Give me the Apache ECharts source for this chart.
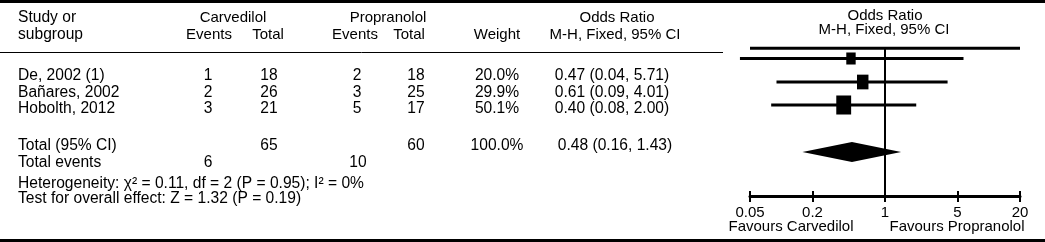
<!DOCTYPE html>
<html>
<head>
<meta charset="utf-8">
<script src="https://cdn.jsdelivr.net/npm/echarts@6/dist/echarts.min.js"></script>
<style>
html,body{margin:0;padding:0;background:#fff;}
#c{width:1045px;height:242px;}
</style>
</head>
<body>
<div id="c"></div>
<script>
// ---------------- DATA ----------------
const categories   = ['De, 2002 (1)', 'Bañares, 2002', 'Hobolth, 2012'];
const carvEvents   = [1, 2, 3];
const carvTotal    = [18, 26, 21];
const propEvents   = [2, 3, 5];
const propTotal    = [18, 25, 17];
const weights      = [20.0, 29.9, 50.1];
const orValues     = [0.47, 0.61, 0.40];
const ciLow        = [0.04, 0.09, 0.08];
const ciHigh       = [5.71, 4.01, 2.00];
const pooledEstimate = [0.48, 0.16, 1.43]; // OR, low, high
const totalsParticipants = [65, 60];
const totalsEvents       = [6, 10];
const totalWeight        = '100.0%';
const heterogeneityText  = 'Heterogeneity: \u03C7\u00B2 = 0.11, df = 2 (P = 0.95); I\u00B2 = 0%';
const overallEffectText  = 'Test for overall effect: Z = 1.32 (P = 0.19)';
const tickValues   = [0.05, 0.2, 1, 5, 20];
const tickLabels   = ['0.05', '0.2', '1', '5', '20'];
const axisRange    = [0.05, 20];
const noEffectValue = 1;
const favoursLabels = ['Favours Carvedilol', 'Favours Propranolol'];

// ---------------- LAYOUT ----------------
const FONT = '"Liberation Sans", Arial, sans-serif';
const L = {
  gridLeft: 750, gridWidth: 270, axisY: 196,
  forestRowY: [58.5, 82, 105],
  topLineY: 48.3,
  diamondY: 152, diamondHalf: 10,
  squareK: 2.1, squareAspect: 1.28,
  headY1: 18, headY2: 35,
  rightHeadY1: 16, rightHeadY2: 30,
  rowY: [76, 92.5, 109],
  totalY: 146, eventsY: 163, hetY: 184, testY: 199,
  col: { name: 18, ev1: 208, tot1: 269, ev2: 357, tot2: 416, weight: 497, or: 612, orTotal: 615 },
  favY: 227, favX: [791, 957]
};

function txt(text, x, y, align, size) {
  return {
    type: 'text', x: x, y: y, silent: true,
    style: {
      text: String(text), fill: '#000', font: size + 'px ' + FONT,
      align: align, verticalAlign: 'middle',
      textAlign: align, textVerticalAlign: 'middle'
    }
  };
}

const graphics = [];
// frame bars
graphics.push({ type: 'rect', shape: { x: 0, y: 0, width: 1045, height: 3 }, style: { fill: '#000' }, silent: true });
graphics.push({ type: 'rect', shape: { x: 0, y: 239, width: 1045, height: 3 }, style: { fill: '#000' }, silent: true });
// header underline
graphics.push({ type: 'line', shape: { x1: 0, y1: 52.5, x2: 723, y2: 52.5 }, style: { stroke: '#000', lineWidth: 1 }, silent: true });

const HS = 15, BS = 15.6;
// headers
graphics.push(txt('Study or', L.col.name, L.headY1, 'left', BS));
graphics.push(txt('subgroup', L.col.name, L.headY2, 'left', BS));
graphics.push(txt('Carvedilol', 233, L.headY1, 'center', HS));
graphics.push(txt('Events', 209, L.headY2, 'center', HS));
graphics.push(txt('Total', 268, L.headY2, 'center', HS));
graphics.push(txt('Propranolol', 388, L.headY1, 'center', HS));
graphics.push(txt('Events', 355, L.headY2, 'center', HS));
graphics.push(txt('Total', 409, L.headY2, 'center', HS));
graphics.push(txt('Weight', 497, L.headY2, 'center', HS));
graphics.push(txt('Odds Ratio', 617, L.headY1, 'center', HS));
graphics.push(txt('M-H, Fixed, 95% CI', 615, L.headY2, 'center', HS));
graphics.push(txt('Odds Ratio', 885, L.rightHeadY1, 'center', 15));
graphics.push(txt('M-H, Fixed, 95% CI', 884, L.rightHeadY2, 'center', 15));

// study rows
categories.forEach(function (name, i) {
  const y = L.rowY[i];
  graphics.push(txt(name, L.col.name, y, 'left', BS));
  graphics.push(txt(carvEvents[i], L.col.ev1, y, 'center', BS));
  graphics.push(txt(carvTotal[i], L.col.tot1, y, 'center', BS));
  graphics.push(txt(propEvents[i], L.col.ev2, y, 'center', BS));
  graphics.push(txt(propTotal[i], L.col.tot2, y, 'center', BS));
  graphics.push(txt(weights[i].toFixed(1) + '%', L.col.weight, y, 'center', BS));
  graphics.push(txt(orValues[i].toFixed(2) + ' (' + ciLow[i].toFixed(2) + ', ' + ciHigh[i].toFixed(2) + ')', L.col.or, y, 'center', BS));
});
// totals
graphics.push(txt('Total (95% CI)', L.col.name, L.totalY, 'left', BS));
graphics.push(txt(totalsParticipants[0], L.col.tot1, L.totalY, 'center', BS));
graphics.push(txt(totalsParticipants[1], L.col.tot2, L.totalY, 'center', BS));
graphics.push(txt(totalWeight, L.col.weight, L.totalY, 'center', BS));
graphics.push(txt(pooledEstimate[0].toFixed(2) + ' (' + pooledEstimate[1].toFixed(2) + ', ' + pooledEstimate[2].toFixed(2) + ')', L.col.orTotal, L.totalY, 'center', BS));
graphics.push(txt('Total events', L.col.name, L.eventsY, 'left', BS));
graphics.push(txt(totalsEvents[0], L.col.ev1, L.eventsY, 'center', BS));
graphics.push(txt(totalsEvents[1], L.col.ev2 + 1, L.eventsY, 'center', BS));
graphics.push(txt(heterogeneityText, L.col.name, L.hetY, 'left', BS));
graphics.push(txt(overallEffectText, L.col.name, L.testY, 'left', BS));
// favours
graphics.push(txt(favoursLabels[0], L.favX[0], L.favY, 'center', 15));
graphics.push(txt(favoursLabels[1], L.favX[1], L.favY, 'center', 15));

function tickFmt(v) {
  for (let k = 0; k < tickValues.length; k++) {
    if (Math.abs(tickValues[k] - v) / tickValues[k] < 1e-6) return tickLabels[k];
  }
  return '';
}

const baseX = {
  type: 'log', logBase: 10, min: axisRange[0], max: axisRange[1],
  position: 'bottom', offset: 0, splitLine: { show: false }
};

const option = {
  animation: false,
  backgroundColor: '#fff',
  grid: { left: L.gridLeft, top: 0, width: L.gridWidth, height: L.axisY, containLabel: false, outerBoundsMode: 'none' },
  xAxis: [
    Object.assign({}, baseX, {
      axisLine: { show: true, onZero: false, lineStyle: { color: '#000', width: 3 } },
      axisTick: { show: true, customValues: tickValues, length: 6, lineStyle: { color: '#000', width: 2 } },
      axisLabel: { show: true, customValues: tickValues, formatter: tickFmt, color: '#000', fontSize: 15, fontFamily: FONT, margin: 9 }
    }),
    Object.assign({}, baseX, {
      axisLine: { show: false, onZero: false },
      axisTick: { show: true, inside: true, customValues: tickValues, length: 5, lineStyle: { color: '#000', width: 2 } },
      axisLabel: { show: false }
    })
  ],
  yAxis: { type: 'value', min: 0, max: L.axisY, inverse: true, show: false },
  graphic: graphics,
  series: [
    {
      type: 'custom', name: 'refs', xAxisIndex: 0, clip: false, silent: true,
      data: [[noEffectValue]],
      encode: { x: 0 },
      renderItem: function (params, api) {
        const v = api.value(0);
        const a = api.coord([v, L.topLineY]);
        const b = api.coord([v, L.axisY]);
        const l = api.coord([axisRange[0], L.topLineY]);
        const r = api.coord([axisRange[1], L.topLineY]);
        return { type: 'group', children: [
          { type: 'line', shape: { x1: l[0], y1: l[1], x2: r[0], y2: r[1] }, style: { stroke: '#000', lineWidth: 3 } },
          { type: 'line', shape: { x1: a[0], y1: a[1], x2: b[0], y2: b[1] }, style: { stroke: '#000', lineWidth: 2 } }
        ]};
      }
    },
    {
      type: 'custom', name: 'studies', xAxisIndex: 0, clip: false, silent: true,
      data: categories.map(function (c, i) { return [orValues[i], ciLow[i], ciHigh[i], weights[i]]; }),
      encode: { x: [0, 1, 2] },
      renderItem: function (params, api) {
        const y = L.forestRowY[params.dataIndex];
        const pOr = api.coord([api.value(0), y]);
        const pLo = api.coord([api.value(1), y]);
        const pHi = api.coord([api.value(2), y]);
        const w = L.squareK * Math.sqrt(api.value(3));
        const h = w * L.squareAspect;
        return { type: 'group', children: [
          { type: 'line', shape: { x1: pLo[0], y1: pLo[1], x2: pHi[0], y2: pHi[1] }, style: { stroke: '#000', lineWidth: 3 } },
          { type: 'rect', shape: { x: pOr[0] - w / 2, y: pOr[1] - h / 2, width: w, height: h }, style: { fill: '#000' } }
        ]};
      }
    },
    {
      type: 'custom', name: 'pooled', xAxisIndex: 0, clip: false, silent: true,
      data: [pooledEstimate],
      encode: { x: [0, 1, 2] },
      renderItem: function (params, api) {
        const y = L.diamondY, d = L.diamondHalf;
        const c = api.coord([api.value(0), y]);
        const lo = api.coord([api.value(1), y]);
        const hi = api.coord([api.value(2), y]);
        return { type: 'polygon', shape: { points: [[lo[0], y], [c[0], y - d], [hi[0], y], [c[0], y + d]] }, style: { fill: '#000' } };
      }
    }
  ]
};

const chart = echarts.init(document.getElementById('c'), null, { renderer: 'canvas' });
chart.setOption(option);
</script>
</body>
</html>
